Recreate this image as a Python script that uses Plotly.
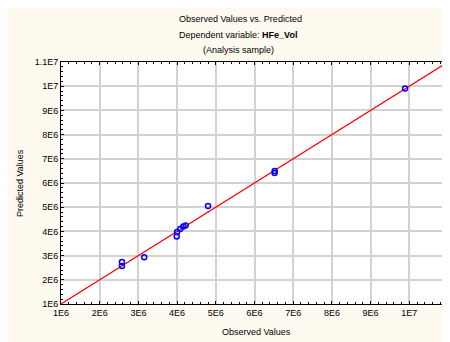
import plotly.graph_objects as go

observed = [2.575e6, 2.575e6, 3.15e6, 3.99e6, 4.00e6, 4.08e6, 4.16e6, 4.22e6, 4.80e6, 6.52e6, 6.52e6, 9.89e6]
predicted = [2.74e6, 2.57e6, 2.93e6, 3.79e6, 3.98e6, 4.10e6, 4.20e6, 4.24e6, 5.05e6, 6.50e6, 6.41e6, 9.90e6]
line_x = [1e6, 1.1e7]
line_y = [1e6, 1.1e7]
tick_vals = [1e6, 2e6, 3e6, 4e6, 5e6, 6e6, 7e6, 8e6, 9e6, 1e7, 1.1e7]
tick_text = ["1E6", "2E6", "3E6", "4E6", "5E6", "6E6", "7E6", "8E6", "9E6", "1E7", "1.1E7"]

font = "Liberation Sans, Arial, sans-serif"
OFF = 8  # page body margin offset
W, H = 450 - OFF, 342 - OFF
ML, MR, MT, MB = 61 - OFF, 2, 62 - OFF, 38

fig = go.Figure()
fig.add_trace(go.Scatter(x=line_x, y=line_y, mode="lines",
                         line=dict(color="#ff0000", width=1.2), hoverinfo="skip"))
fig.add_trace(go.Scatter(x=observed, y=predicted, mode="markers",
                         marker=dict(symbol="circle-open", size=5, color="#0000ff",
                                     line=dict(width=1.5, color="#0000ff"))))

axis_common = dict(
    tickvals=tick_vals, ticktext=tick_text, range=[1e6, 1.1e7],
    showgrid=True, gridcolor="#d3d3d3", gridwidth=1.5,
    showline=True, linecolor="#000000", linewidth=1, mirror="allticks",
    ticks="inside", ticklen=3, tickcolor="#000000",
    minor=dict(dtick=2e5, ticks="inside", ticklen=2, tickcolor="#000000", showgrid=False),
    zeroline=False, automargin=False,
    tickfont=dict(family=font, size=9, color="#000000"),
)

plot_w = W - ML - MR
plot_h = H - MT - MB
def px_to_paper(px, py):
    px -= OFF
    py -= OFF
    return (px - ML) / plot_w, (H - MB - py) / plot_h

anns = []
for txt, (cx, cy) in [("Observed Values vs. Predicted", (240, 19)),
                      ("Dependent variable: <b>HFe_Vol</b>", (238, 35)),
                      ("(Analysis sample)", (238, 50)),
                      ("Observed Values", (256, 332))]:
    ax, ay = px_to_paper(cx, cy)
    anns.append(dict(text=txt, x=ax, y=ay, xref="paper", yref="paper", showarrow=False,
                     xanchor="center", yanchor="middle",
                     font=dict(family=font, size=9, color="#000000")))
ax, ay = px_to_paper(20, 183)
anns.append(dict(text="Predicted Values", x=ax, y=ay, xref="paper", yref="paper", showarrow=False,
                 xanchor="center", yanchor="middle", textangle=-90,
                 font=dict(family=font, size=9, color="#000000")))

fig.update_layout(
    width=W, height=H,
    margin=dict(l=ML, r=MR, t=MT, b=MB, autoexpand=False),
    paper_bgcolor="#fefaef", plot_bgcolor="#ffffff",
    showlegend=False,
    xaxis=axis_common,
    yaxis=axis_common,
    annotations=anns,
)

fig.write_html("out.html")
